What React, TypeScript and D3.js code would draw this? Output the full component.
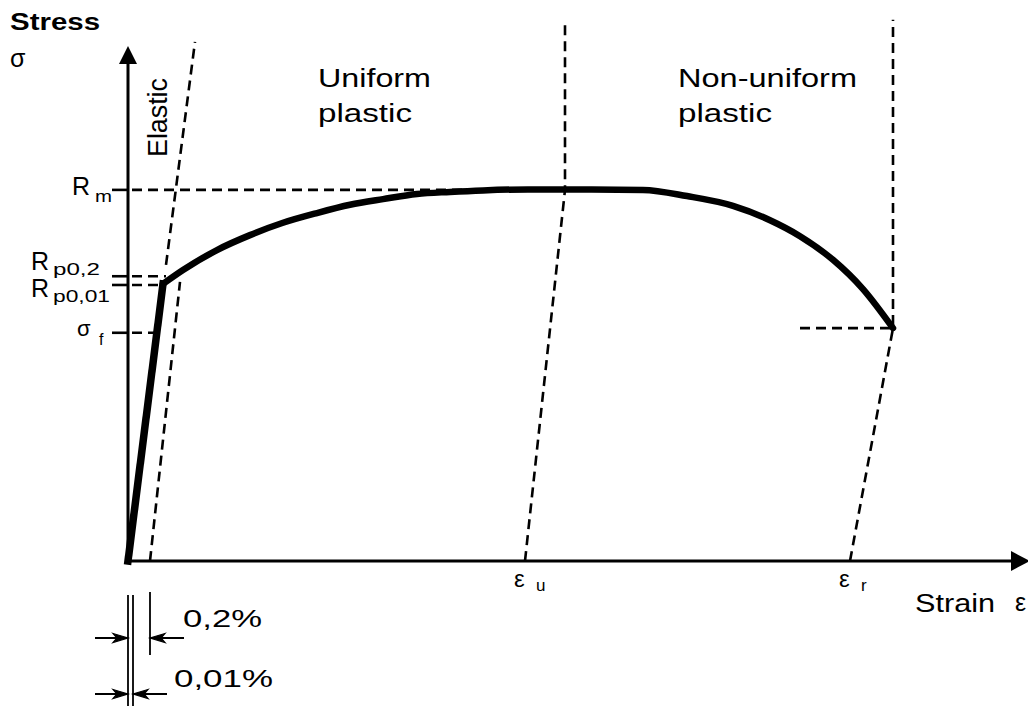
import React from 'react';
import * as d3 from 'd3';

const W = 1028;
const H = 706;

// ---- data (strain / stress in arbitrary units) ----
const elasticStrain = [0, 0.35];
const elasticStress = [0, 53.9];
const plasticStrain = [0.35, 0.55, 0.89, 1.22, 1.55, 1.89, 2.22, 2.55, 2.89, 3.22, 3.55, 4.0, 4.5, 5.15, 5.59, 6.05, 6.42, 6.72, 7.05, 7.35, 7.65];
const plasticStress = [53.9, 56.6, 60.5, 63.4, 65.8, 67.7, 69.3, 70.4, 71.4, 71.8, 72.1, 72.3, 72.3, 72.2, 71.0, 69.1, 66.3, 63.2, 58.6, 52.9, 45.3];

// horizontal stress levels: value and strain where the dashed guide ends
const levelNames = ['Rm', 'Rp0,2', 'Rp0,01', 'σf'];
const levelStress = [72.2, 55.4, 53.7, 44.4];
const levelEndStrain = [4.37, 0.38, 0.32, 0.29];

// strain markers: foot on the axis, point where the guide turns vertical
const markerNames = ['εu', 'εr'];
const markerBase = [3.97, 7.22];
const markerTurnStrain = [4.37, 7.65];
const markerTurnStress = [72.2, 45.3];
const markerTopStress = [104.3, 105.3];

// fracture guide
const fractureFromStrain = 6.72;
const fractureStress = 45.3;

// elastic extension and offset line
const elasticExtStrain = [0.38, 0.67];
const elasticExtStress = [57.6, 101.0];
const offsetStrain = [0.22, 0.52];
const offsetStress = [0, 54.3];

// offsets shown under the axis
const offsetLabels = ['0,2%', '0,01%'];
const offsetValues = [0.22, 0.05];

const x = d3.scaleLinear().domain([0, 9]).range([128, 1028]);
const y = d3.scaleLinear().domain([0, 100]).range([561, 47]);

const line = d3.line<[number, number]>().x(d => x(d[0])).y(d => y(d[1]));
const smooth = d3.line<[number, number]>().x(d => x(d[0])).y(d => y(d[1])).curve(d3.curveMonotoneX);

const zip = (a: number[], b: number[]) => a.map((v, i) => [v, b[i]] as [number, number]);

const FONT = '"Liberation Sans", Arial, Helvetica, sans-serif';
const DASH = '10,6';

function Arrow({ tip, yy, dir }: { tip: number; yy: number; dir: number }) {
  // dir = 1 points right, -1 points left
  const start = dir === 1 ? tip - 33 : tip + 34;
  return (
    <g stroke="#000" strokeWidth={1.8}>
      <line x1={start} y1={yy} x2={tip} y2={yy} />
      <path d={`M${tip - dir * 15},${yy - 4.5} L${tip},${yy} L${tip - dir * 15},${yy + 4.5} L${tip - dir * 11},${yy} Z`} fill="#000" strokeWidth={1.2} />
    </g>
  );
}

export default function App() {
  const x0 = x(0);
  const y0 = y(0);
  return (
    <svg width={W} height={H} style={{ position: 'absolute', left: 0, top: 0, background: '#fff', fontFamily: FONT }}>
      <rect width={W} height={H} fill="#fff" />

      {/* dashed guides */}
      <g stroke="#000" strokeWidth={2.6} fill="none" strokeDasharray={DASH}>
        {levelStress.map((s, i) => (
          <line key={'lv' + i} x1={x0 + 4} y1={y(s)} x2={x(levelEndStrain[i])} y2={y(s)} />
        ))}
        {markerBase.map((b, i) => (
          <path key={'mk' + i} d={line([[b, 0], [markerTurnStrain[i], markerTurnStress[i]], [markerTurnStrain[i], markerTopStress[i]]]) || ''} />
        ))}
        <line x1={x(fractureFromStrain)} y1={y(fractureStress)} x2={x(markerTurnStrain[1])} y2={y(fractureStress)} />
        <path d={line(zip(elasticExtStrain, elasticExtStress)) || ''} />
        <path d={line(zip(offsetStrain, offsetStress)) || ''} />
      </g>

      {/* solid ticks on the stress axis */}
      <g stroke="#000" strokeWidth={2.6}>
        {levelStress.map((s, i) => (
          <line key={'tk' + i} x1={112} y1={y(s)} x2={x0} y2={y(s)} />
        ))}
      </g>

      {/* axes */}
      <g stroke="#000" strokeWidth={3}>
        <line x1={x0} y1={y0 + 1} x2={x0} y2={62} />
        <line x1={x0 - 1} y1={y0} x2={1014} y2={y0} />
      </g>
      <path d={`M${x0},46 L${x0 - 9},64 L${x0 + 9},64 Z`} fill="#000" />
      <path d={`M1030,${y0} L1011,${y0 - 10} L1011,${y0 + 10} Z`} fill="#000" />

      {/* curve */}
      <path d={line(zip(elasticStrain, elasticStress)) || ''} stroke="#000" strokeWidth={7.5} fill="none" strokeLinecap="square" />
      <path d={smooth(zip(plasticStrain, plasticStress)) || ''} stroke="#000" strokeWidth={6.5} fill="none" strokeLinejoin="round" strokeLinecap="round" />

      {/* axis titles */}
      <text x={10} y={30} fontSize={23} fontWeight="bold" textLength={90} lengthAdjust="spacingAndGlyphs">Stress</text>
      <text x={10} y={67} fontSize={25}>σ</text>
      <text x={915} y={612} fontSize={25} textLength={80} lengthAdjust="spacingAndGlyphs">Strain</text>
      <text x={1015} y={611} fontSize={25}>ε</text>

      {/* region labels */}
      <text transform="translate(167,157) rotate(-90)" fontSize={27} textLength={79} lengthAdjust="spacingAndGlyphs">Elastic</text>
      <text x={318} y={87} fontSize={25} textLength={113} lengthAdjust="spacingAndGlyphs">Uniform</text>
      <text x={318} y={122} fontSize={25} textLength={94} lengthAdjust="spacingAndGlyphs">plastic</text>
      <text x={678} y={87} fontSize={25} textLength={179} lengthAdjust="spacingAndGlyphs">Non-uniform</text>
      <text x={678} y={122} fontSize={25} textLength={94} lengthAdjust="spacingAndGlyphs">plastic</text>

      {/* stress level labels */}
      <text x={72} y={y(levelStress[0]) + 5} fontSize={25}>R</text>
      <text x={95} y={y(levelStress[0]) + 12} fontSize={17} textLength={17} lengthAdjust="spacingAndGlyphs">{levelNames[0].slice(1)}</text>
      <text x={31} y={y(levelStress[1]) - 6} fontSize={25}>R</text>
      <text x={53} y={y(levelStress[1]) - 1} fontSize={17} textLength={47} lengthAdjust="spacingAndGlyphs">{levelNames[1].slice(1)}</text>
      <text x={31} y={y(levelStress[2]) + 12} fontSize={25}>R</text>
      <text x={53} y={y(levelStress[2]) + 17} fontSize={17} textLength={57} lengthAdjust="spacingAndGlyphs">{levelNames[2].slice(1)}</text>
      <text x={77} y={y(levelStress[3]) + 3} fontSize={22}>{levelNames[3].slice(0, 1)}</text>
      <text x={99} y={y(levelStress[3]) + 12} fontSize={16}>{levelNames[3].slice(1)}</text>

      {/* strain marker labels */}
      {markerBase.map((b, i) => (
        <g key={'ml' + i}>
          <text x={x(b) - 11} y={y0 + 26} fontSize={24}>{markerNames[i].slice(0, 1)}</text>
          <text x={x(b) + 11} y={y0 + 30} fontSize={17}>{markerNames[i].slice(1)}</text>
        </g>
      ))}

      {/* offset dimension marks */}
      <g stroke="#000" strokeWidth={1.8}>
        <line x1={x(0)} y1={595} x2={x(0)} y2={706} />
        <line x1={x(offsetValues[1])} y1={595} x2={x(offsetValues[1])} y2={706} />
        <line x1={x(offsetValues[0])} y1={592} x2={x(offsetValues[0])} y2={655} />
      </g>
      <Arrow tip={x(0)} yy={638} dir={1} />
      <Arrow tip={x(offsetValues[0])} yy={638} dir={-1} />
      <Arrow tip={x(0)} yy={694} dir={1} />
      <Arrow tip={x(offsetValues[1])} yy={694} dir={-1} />
      <text x={183} y={627} fontSize={23} textLength={79} lengthAdjust="spacingAndGlyphs">{offsetLabels[0]}</text>
      <text x={174} y={687} fontSize={23} textLength={99} lengthAdjust="spacingAndGlyphs">{offsetLabels[1]}</text>
    </svg>
  );
}
